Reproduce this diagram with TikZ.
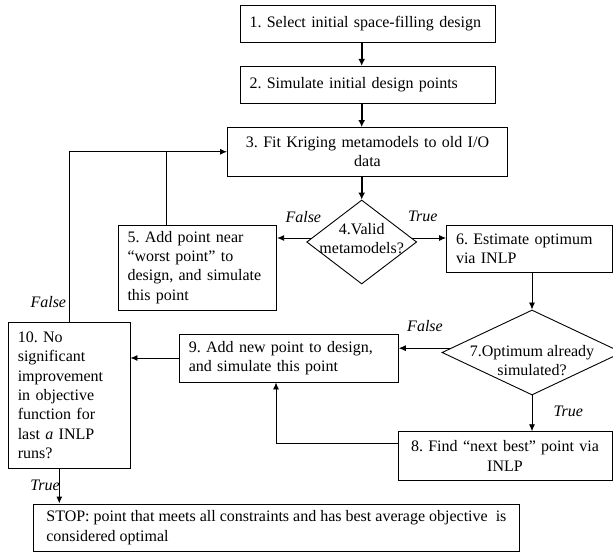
\documentclass[tikz,border=0pt]{standalone}
\usepackage{fontspec}
\setmainfont{Liberation Serif}
\usetikzlibrary{arrows.meta,shapes.geometric,calc}
\frenchspacing
\begin{document}
\frenchspacing
\begin{tikzpicture}[x=1pt,y=-1pt,
  font=\fontsize{16}{19.3}\selectfont,
  box/.style={draw=black, line width=0.9pt, inner xsep=9.5pt, inner ysep=0pt, align=left},
  dia/.style={draw=black, line width=0.9pt, diamond, inner sep=0pt},
  arr/.style={line width=0.9pt, -{Latex[length=7pt,width=6pt]}},
  thickarr/.style={line width=2pt, -{Latex[length=7pt,width=7pt]}},
  lab/.style={font=\fontsize{16}{19.3}\selectfont\itshape, inner sep=0pt}]
\useasboundingbox (0,0) rectangle (613,553);

\node[box, text width=236pt, minimum height=36.3pt] (b1) at (367.5,23.85) {1. Select initial space-filling design};
\node[box, text width=236pt, minimum height=36.7pt] (b2) at (367.5,84.65) {2. Simulate initial design points};
\node[box, text width=261pt, minimum height=48.5pt, align=center] (b3) at (367.5,151.75) {3. Fit Kriging metamodels to old I/O\\data};
\node[dia, minimum width=110pt, minimum height=84pt] (d4) at (361.7,242) {};
\node[align=center, inner sep=0pt] (t4) at (361.7,238.7) {4.Valid\\metamodels?};
\node[box, text width=139.7pt, minimum height=85pt] (b5) at (197.35,267.5) {5. Add point near\\“worst point” to\\design, and simulate\\this point};
\node[box, text width=146.5pt, minimum height=47.7pt] (b6) at (529.25,248.85) {6. Estimate optimum\\via INLP};
\node[dia, minimum width=180pt, minimum height=85pt] (d7) at (532,352.5) {};
\node[align=center, inner sep=0pt] (t7) at (532,360.5) {7.Optimum already\\simulated?};
\node[box, text width=195pt, minimum height=48.3pt, align=center] (b8) at (505,455.85) {8. Find “next best” point via\\INLP};
\node[box, text width=200pt, minimum height=48pt] (b9) at (288.8,358) {9. Add new point to design,\\and simulate this point};
\node[box, text width=102.7pt, minimum height=145.5pt] (b10) at (69.15,395.25) {10. No\\significant\\improvement\\in objective\\function for\\last \emph{a} INLP\\runs?};
\node[box, minimum width=486.2pt, minimum height=47.5pt] (stop) at (276.4,527.75) {STOP: point that meets all constraints and has best average objective\ \ is\\considered optimal};

% main spine
\draw[thickarr] (b1.south -| d4.north) -- (b2.north -| d4.north);
\draw[thickarr] (b2.south -| d4.north) -- (b3.north -| d4.north);
\draw[thickarr] (b3.south -| d4.north) -- (d4.north);

% diamond 4 outputs
\coordinate (f4) at ([xshift=5.2pt,yshift=4pt]d4.west);
\coordinate (g4) at ([xshift=-5.2pt,yshift=4pt]d4.east);
\draw[arr] (f4) -- (f4 -| b5.east);
\draw[arr] (g4) -- (g4 -| b6.west);

% feedback loops to box 3
\coordinate (j5) at ([xshift=-30.65pt]b5.north);
\draw[line width=0.9pt] (j5) -- (j5 |- b3.west);
\draw[arr] (b10.north) |- (b3.west);

% box 6 to diamond 7
\draw[arr] (b6.south -| d7.north) -- (d7.north);

% diamond 7 outputs
\coordinate (f7) at ([xshift=9.4pt,yshift=4.3pt]d7.west);
\draw[arr] (f7) -- (f7 -| b9.east);
\draw[arr] (d7.south) -- (d7.south |- b8.north);

% box 8 to box 9
\coordinate (f8) at ([yshift=12pt]b8.west);
\coordinate (e9) at ([xshift=-12.8pt]b9.south);
\draw[arr] (f8) -| (e9);

% box 9 to box 10
\draw[arr] (b9.west) -- (b9.west -| b10.east);

% box 10 to stop
\coordinate (c10) at ([xshift=-9.85pt]b10.south);
\draw[arr] (c10) -- (c10 |- stop.north);

% labels
\node[lab] (lf4) at (303.3,216.7) {False};
\node[lab] (lt4) at (422.7,216.7) {True};
\node[lab] (lf10) at (48.3,301.7) {False};
\node[lab] (lf7) at (425,325.7) {False};
\node[lab] (lt7) at (568.3,411) {True};
\node[lab] (lt10) at (45,485) {True};
\end{tikzpicture}
\end{document}
